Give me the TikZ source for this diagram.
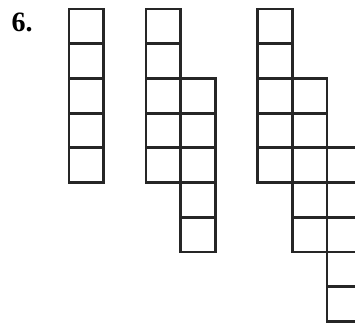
\documentclass[tikz,border=0pt]{standalone}
\usepackage{fontspec}
\setmainfont{Liberation Serif}
\begin{document}
\begin{tikzpicture}[x=1pt,y=-1pt,
  cell/.style={draw=black!85,line width=2.8pt},
  lbl/.style={inner sep=0pt,anchor=base west,font=\fontsize{28}{28}\selectfont\bfseries}]
\useasboundingbox (0,0) rectangle (355,322);
\def\s{34.7}
\node[lbl] (num) at (11.5,31) {6.};
% figure 1
\foreach \r in {0,...,4} \draw[cell] (69,9+\r*\s) rectangle ++(\s,\s);
% figure 2
\foreach \r in {0,...,4} \draw[cell] (146,9+\r*\s) rectangle ++(\s,\s);
\foreach \r in {2,...,6} \draw[cell] (146+\s,9+\r*\s) rectangle ++(\s,\s);
% figure 3
\begin{scope}
\clip (0,0) rectangle (355,322);
\foreach \r in {0,...,4} \draw[cell] (257.5,9+\r*\s) rectangle ++(\s,\s);
\foreach \r in {2,...,6} \draw[cell] (257.5+\s,9+\r*\s) rectangle ++(\s,\s);
\foreach \r in {4,...,8} \draw[cell] (257.5+2*\s,9+\r*\s) rectangle ++(\s,\s);
\end{scope}
\end{tikzpicture}
\end{document}
